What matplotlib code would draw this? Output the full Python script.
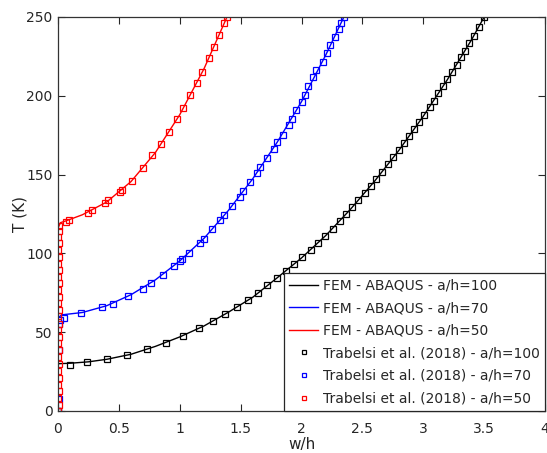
import matplotlib
matplotlib.use("Agg")
import matplotlib.pyplot as plt
from matplotlib.ticker import FormatStrFormatter

# FEM - ABAQUS curves
fem100_w = [0, 0, 0.1, 0.25, 0.4, 0.6, 0.8, 1.0, 1.2, 1.4, 1.6, 1.8, 2.0, 2.2, 2.4, 2.6, 2.8, 3.0, 3.2, 3.4, 3.5]
fem100_T = [0, 30, 30.3, 31.2, 32.8, 36, 41, 47, 54, 62.7, 72.2, 84.5, 97.1, 111.4, 127.8, 145.8, 165.4, 187, 210.5, 236, 250]

fem70_w = [0, 0, 0.03, 0.2, 0.4, 0.6, 0.8, 1.0, 1.2, 1.4, 1.6, 1.8, 2.0, 2.2, 2.348]
fem70_T = [0, 59, 61, 62.5, 66.8, 73.8, 83.2, 95.2, 109.6, 127.3, 147.4, 170.5, 196.3, 226, 250]

fem50_w = [0, 0, 0.02, 0.06, 0.2, 0.4, 0.6, 0.8, 1.0, 1.2, 1.388]
fem50_T = [0, 116, 119.5, 120.5, 124.5, 132.6, 145.6, 164, 188, 217.3, 250]

# Trabelsi et al. (2018)
tr100_w = [0, 0.096, 0.236, 0.406, 0.57, 0.73, 0.886, 1.03, 1.16, 1.27, 1.372, 1.47, 1.564,
           1.646, 1.72, 1.797, 1.87, 1.94, 2.008, 2.074, 2.134, 2.195, 2.255, 2.316, 2.368,
           2.417, 2.467, 2.518, 2.568, 2.615, 2.664, 2.71, 2.755, 2.80, 2.842, 2.886, 2.927,
           2.968, 3.01, 3.053, 3.086, 3.125, 3.16, 3.199, 3.237, 3.276, 3.309, 3.339, 3.372,
           3.416, 3.46, 3.50]
tr100_T = [0, 29, 30.9, 32.8, 35.7, 39.1, 43.3, 47.8, 52.5, 56.9, 61.3, 66, 70.2,
           74.7, 79.8, 84.4, 88.8, 93, 97.5, 102.2, 106.6, 111, 115.5, 120.4, 124.8,
           129.4, 133.9, 138.3, 142.8, 147.2, 151.8, 156.5, 161, 165.4, 169.9, 174.5, 179.1,
           183.4, 188, 192.7, 196.7, 201.6, 206.2, 210.5, 215, 219.7, 224.4, 228.6, 233.3,
           238, 243.8, 249.8]

tr70_w = [0, 0.01, 0.005, 0.01, 0.02, 0.047, 0.187, 0.362, 0.45, 0.579, 0.697, 0.763, 0.861,
          0.95, 0.998, 1.018, 1.08, 1.163, 1.196, 1.265, 1.333, 1.366, 1.426, 1.492, 1.52,
          1.58, 1.635, 1.663, 1.718, 1.778, 1.80, 1.844, 1.895, 1.918, 1.953, 2.0, 2.027,
          2.055, 2.096, 2.123, 2.173, 2.206, 2.233, 2.272, 2.307, 2.327, 2.348]
tr70_T = [0, 7.4, 38.7, 55, 57.5, 58.8, 62, 65.8, 68.2, 72.8, 77.5, 81, 86.1,
          91.7, 95, 96.3, 100.5, 106.4, 109.3, 115.3, 121, 124.4, 130.3, 136, 139.6,
          145.3, 150.8, 155, 160.3, 166.5, 170.9, 175.1, 181.5, 185.5, 191, 196.3, 200.5,
          206.2, 212.1, 216.4, 221.3, 227, 232.2, 237.1, 242.2, 246, 250]

tr50_w = [0, 0.008, 0.003, 0.008, 0.003, 0.008, 0.003, 0.008, 0.003, 0.008, 0.003, 0.008,
          0.003, 0.008, 0.003, 0.008, 0.003, 0.008, 0.003, 0.008, 0.003, 0.008, 0.003, 0.008,
          0.003, 0.008, 0.003, 0.008, 0.01,
          0.063, 0.093, 0.244, 0.277, 0.387, 0.414, 0.51, 0.524, 0.607, 0.702, 0.776, 0.848,
          0.914, 0.977, 1.025, 1.086, 1.141, 1.18, 1.237, 1.284, 1.325, 1.36, 1.388]
tr50_T = [0, 4, 8.5, 12.5, 16.5, 21, 25.5, 30, 34.5, 38.5, 43, 47,
          51.5, 55.5, 60, 64, 68.5, 72.5, 77, 81, 85, 89.5, 93.5, 98,
          102, 106.5, 110.5, 114.5, 117.5,
          120, 121.2, 125.8, 127.5, 131.8, 133.6, 139.1, 140.5, 146, 154, 162.4, 169.4,
          177.2, 185.1, 192, 200.3, 208, 215, 223.8, 231.2, 238.6, 246, 250]

plt.rcParams['font.family'] = 'DejaVu Sans'
plt.rcParams['text.color'] = '#262626'
plt.rcParams['axes.labelcolor'] = '#262626'
plt.rcParams['xtick.color'] = '#262626'
plt.rcParams['ytick.color'] = '#262626'

fig = plt.figure(figsize=(5.47, 4.53), dpi=100)
ax = fig.add_axes([58 / 547, 42 / 453, 487 / 547, 394 / 453])

ax.plot(fem100_w, fem100_T, color='black', lw=1, label='FEM - ABAQUS - a/h=100')
ax.plot(fem70_w, fem70_T, color='blue', lw=1, label='FEM - ABAQUS - a/h=70')
ax.plot(fem50_w, fem50_T, color='red', lw=1, label='FEM - ABAQUS - a/h=50')

mk = dict(ls='none', marker='s', ms=5, mfc='none', mew=0.9)
ax.plot(tr100_w, tr100_T, mec='black', label='Trabelsi et al. (2018) - a/h=100', **mk)
ax.plot(tr70_w, tr70_T, mec='blue', label='Trabelsi et al. (2018) - a/h=70', **mk)
ax.plot(tr50_w, tr50_T, mec='red', label='Trabelsi et al. (2018) - a/h=50', **mk)

ax.set_xlim(0, 4)
ax.set_ylim(0, 250)
ax.set_xticks([0, 0.5, 1, 1.5, 2, 2.5, 3, 3.5, 4])
ax.set_yticks([0, 50, 100, 150, 200, 250])
ax.xaxis.set_major_formatter(FormatStrFormatter('%g'))
ax.yaxis.set_major_formatter(FormatStrFormatter('%g'))
ax.tick_params(direction='in', length=5, width=0.8, top=True, right=True, labelsize=10)
ax.tick_params(axis='x', pad=8)
ax.tick_params(axis='y', pad=4)
for s in ax.spines.values():
    s.set_color('#333333')
    s.set_linewidth(0.9)

ax.set_xlabel('w/h', fontsize=11)
ax.set_ylabel('T (K)', fontsize=11)
ax.xaxis.set_label_coords(0.5, -0.067)
ax.yaxis.set_label_coords(-0.062, 0.5)

leg = ax.legend(loc='lower right', fontsize=10, frameon=True, fancybox=False,
                framealpha=1, edgecolor='#262626', borderaxespad=0,
                handlelength=2.1, handletextpad=0.3, labelspacing=0.62,
                markerscale=0.6, borderpad=0.4)
leg.get_frame().set_linewidth(0.9)

fig.savefig('out.png', dpi=100)
